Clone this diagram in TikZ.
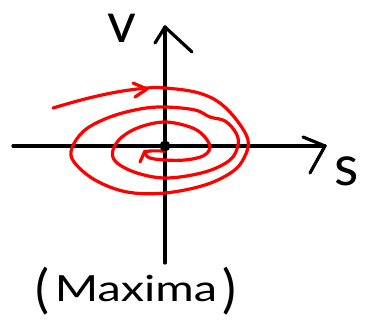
\documentclass[tikz,border=0pt]{standalone}
\usepackage{fontspec}
\setmainfont{Lato}
\newcommand{\bigpar}[1]{\raisebox{-6pt}{\fontsize{52}{52}\selectfont #1}}
\begin{document}
\begin{tikzpicture}[x=1pt,y=-1pt,
  axis/.style={line width=3.2pt, line cap=round, line join=round},
  spiral/.style={red, line width=3.2pt, line cap=round, line join=round},
  lbl/.style={inner sep=0pt, font=\fontsize{56}{56}\selectfont}]
\useasboundingbox (0,0) rectangle (373,326);
% axes
\coordinate (vb) at (165,263);
\coordinate (vt) at (165,27);
\coordinate (hl) at (13,146);
\coordinate (hr) at (325,146);
\draw[axis] (vb) -- (vt);
\draw[axis] (155,43) -- (vt) -- (192,52);
\draw[axis] (hl) -- (hr);
\draw[axis] (303,137) -- (hr) -- (310,173);
% spiral
\draw[spiral] plot[smooth, tension=0.6] coordinates {
 (53,108) (85,99) (117,92) (147,88) (165,88) (195,92) (217,101) (235,118)
 (248,140) (244,158) (232,172) (205,185) (165,193) (127,192) (95,180)
 (74,162) (72,148) (85,130) (110,117) (140,109) (165,107) (195,110)
 (210,117) (225,121) (236,133) (238,145) (230,160) (205,172) (167,178)
 (137,173) (116,162) (113,150) (122,137) (140,127) (165,122) (190,127)
 (203,135) (210,147) (203,156) (185,160) (165,160) (150,158)
 (145,153) (150,151) (165,151)};
\draw[spiral] (145,151) -- (140,162);
\draw[spiral] (133,83) -- (147,89) -- (135,97);
% origin
\fill (165,146) circle (5.5);
% labels
\node[lbl, anchor=base] (v) at (122,43) {v};
\node[lbl, anchor=base] (s) at (347,186) {s};
\node[inner sep=0pt, anchor=base] (m) at (136,302)
  {\bigpar{(}\hspace{5pt}\scalebox{1.3}[1]{\fontsize{36}{36}\selectfont Maxima}\hspace{5pt}\bigpar{)}};
\end{tikzpicture}
\end{document}
